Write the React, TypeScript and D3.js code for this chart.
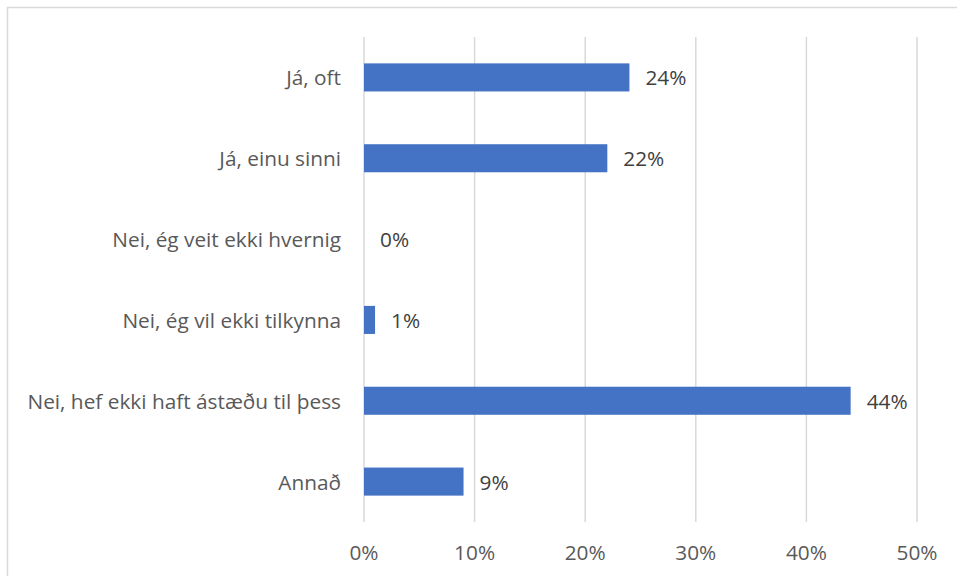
import React from "react";
import * as d3 from "d3";

const categories = [
  "Já, oft",
  "Já, einu sinni",
  "Nei, ég veit ekki hvernig",
  "Nei, ég vil ekki tilkynna",
  "Nei, hef ekki haft ástæðu til þess",
  "Annað",
];
const values = [24, 22, 0, 1, 44, 9];
const ticks = [0, 10, 20, 30, 40, 50];

const W = 957;
const H = 576;
const FONT = "'Open Sans', 'Liberation Sans', Arial, sans-serif";
const FS = 20.8;

export default function App() {
  const x = d3.scaleLinear().domain([0, 50]).range([364, 917]);
  const y = d3
    .scaleBand<string>()
    .domain(categories)
    .range([37, 522])
    .paddingInner(0.653)
    .paddingOuter(0.3265);

  return (
    <svg
      width={W}
      height={H}
      style={{ position: "absolute", left: 0, top: 0, background: "#fff" }}
    >
      <rect x={7.5} y={7.5} width={W} height={H} fill="#fff" stroke="#d9d9d9" strokeWidth={1.5} />
      {ticks.map((t) => (
        <g key={t}>
          <line x1={x(t)} x2={x(t)} y1={37} y2={522} stroke="#d9d9d9" strokeWidth={1.5} />
          <text
            x={x(t)}
            y={560}
            textAnchor="middle"
            fontFamily={FONT}
            fontSize={FS}
            fill="#595959"
          >
            {t}%
          </text>
        </g>
      ))}
      {categories.map((c, i) => {
        const yc = (y(c) ?? 0) + y.bandwidth() / 2;
        return (
          <g key={c}>
            <rect
              x={x(0)}
              y={y(c)}
              width={x(values[i]) - x(0)}
              height={y.bandwidth()}
              fill="#4472c4"
            />
            <text
              x={341}
              y={yc + 8}
              textAnchor="end"
              fontFamily={FONT}
              fontSize={FS}
              fill="#595959"
            >
              {c}
            </text>
            <text
              x={x(values[i]) + 16}
              y={yc + 8}
              fontFamily={FONT}
              fontSize={FS}
              fill="#404040"
            >
              {values[i]}%
            </text>
          </g>
        );
      })}
    </svg>
  );
}
